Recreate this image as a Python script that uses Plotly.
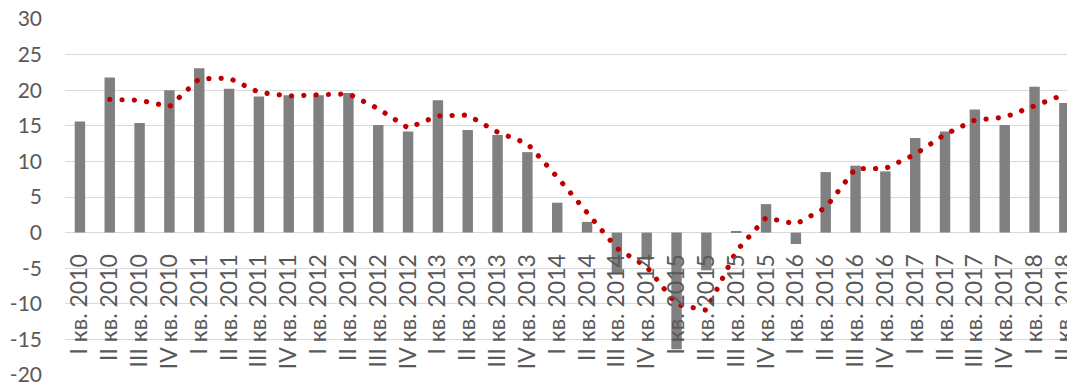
import plotly.graph_objects as go

quarters = ["I", "II", "III", "IV"]
years = [2010, 2011, 2012, 2013, 2014, 2015, 2016, 2017, 2018]
categories = [f"{q} кв. {y}" for y in years for q in quarters][:34]

bar_values = [15.6, 21.8, 15.4, 20.0,
              23.1, 20.2, 19.1, 19.3,
              19.3, 19.6, 15.1, 14.2,
              18.6, 14.4, 13.7, 11.3,
              4.2, 1.5, -5.8, -3.8,
              -16.4, -5.3, 0.2, 4.0,
              -1.6, 8.5, 9.4, 8.6,
              13.3, 14.2, 17.3, 15.1,
              20.5, 18.2]

# 2-period moving average trend (dotted red), starts at II кв. 2010
trend_categories = categories[1:]
trend_values = [18.7, 18.6, 17.7,
                21.6, 21.7, 19.7, 19.2,
                19.3, 19.5, 17.4, 14.7,
                16.4, 16.5, 14.1, 12.5,
                7.8, 2.9, -2.2, -4.8,
                -10.1, -10.9, -2.6, 2.1,
                1.2, 3.5, 9.0, 9.0,
                11.0, 13.8, 15.8, 16.2,
                17.8, 19.4]

y_ticks = list(range(-20, 31, 5))

FONT = "Lato, 'Open Sans', sans-serif"
TXT = "#595959"

fig = go.Figure()
fig.add_trace(go.Bar(
    x=categories, y=bar_values,
    marker=dict(color="#808080", line=dict(width=0)),
    width=0.35,
))
fig.add_trace(go.Scatter(
    x=trend_categories, y=trend_values,
    mode="lines",
    line=dict(color="#c00000", width=5.2, dash="0.1px,12.2px"),
))

W, H = 1067, 383
L, R, T, B = 65.4, 0, 19, 8
plot_w = W - L - R
cat_w = 29.82
x_max = -0.5 + plot_w / cat_w

fig.update_layout(
    width=W, height=H,
    margin=dict(l=L, r=R, t=T, b=B, pad=0, autoexpand=False),
    paper_bgcolor="white", plot_bgcolor="white",
    showlegend=False,
    font=dict(family=FONT, color=TXT, size=22),
    xaxis=dict(
        type="category",
        categoryorder="array", categoryarray=categories,
        range=[-0.5, x_max],
        anchor="free", position=20 / 50,
        showgrid=False, showline=False, zeroline=False,
        ticks="", tickangle=-90,
        tickfont=dict(family=FONT, size=23, color=TXT),
        ticklabelstandoff=16,
        ticklabeloverflow="allow",
        automargin=False,
    ),
    yaxis=dict(
        range=[-20, 30],
        tickvals=y_ticks,
        ticktext=[str(v) for v in y_ticks],
        showgrid=True, gridcolor="#d9d9d9", gridwidth=1.3,
        zeroline=True, zerolinecolor="#d9d9d9", zerolinewidth=1.3,
        showline=False, ticks="",
        tickfont=dict(family=FONT, size=21, color=TXT),
        ticklabelstandoff=22,
        ticklabeloverflow="allow",
        automargin=False,
    ),
    bargap=0.65,
)

round_caps = """
document.querySelectorAll('.scatterlayer .js-line').forEach(function(p){
  p.style.strokeLinecap = 'round';
});
"""

fig.write_html("out.html", post_script=round_caps)
